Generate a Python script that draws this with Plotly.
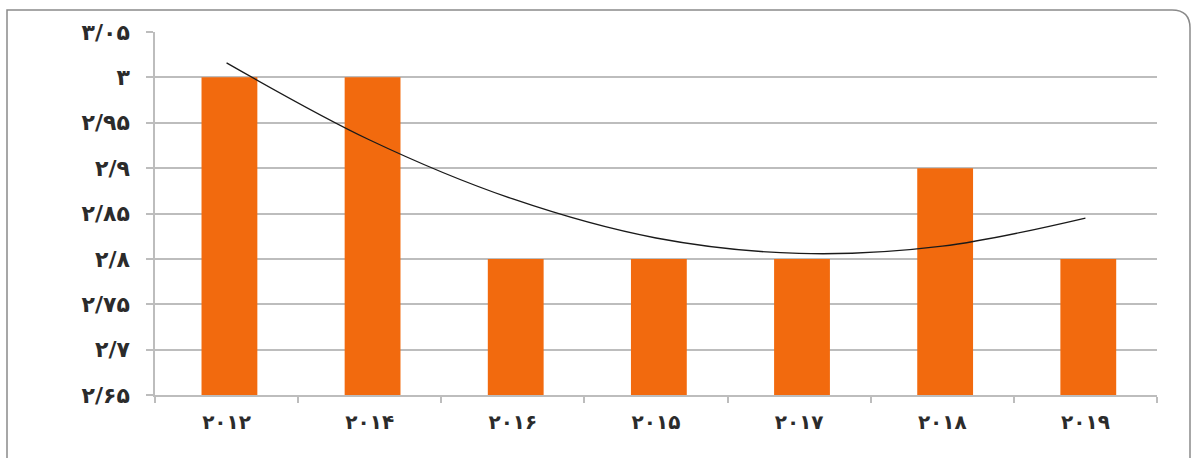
import plotly.graph_objects as go

categories = ["۲۰۱۲", "۲۰۱۴", "۲۰۱۶", "۲۰۱۵", "۲۰۱۷", "۲۰۱۸", "۲۰۱۹"]
values = [3.0, 3.0, 2.8, 2.8, 2.8, 2.9, 2.8]
# trendline at each category
trend = [3.016, 2.931, 2.866, 2.823, 2.806, 2.814, 2.845]
ytick_vals = [2.65, 2.70, 2.75, 2.80, 2.85, 2.90, 2.95, 3.00, 3.05]
ytick_text = ["۲/۶۵", "۲/۷", "۲/۷۵", "۲/۸", "۲/۸۵", "۲/۹", "۲/۹۵", "۳", "۳/۰۵"]

W, H = 1192, 458
L, R, T, B = 155, 35, 32, 63
pw, ph = W - L - R, H - T - B

def px(x):
    return (x - L) / pw

def py(y):
    return 1 - (y - T) / ph

fig = go.Figure()
fig.add_trace(go.Bar(
    x=categories, y=values,
    marker=dict(color="#F26A0E", line=dict(width=0)),
    width=0.39, offset=-0.175,
))
fig.add_trace(go.Scatter(
    x=categories, y=trend, mode="lines",
    line=dict(color="#1a1a1a", width=1.3, shape="spline"),
))

x0, x1 = px(7), px(1190)
y0, y1 = py(470), py(10)
rx, ry = 18 / pw, 18 / ph
path = (f"M {x0},{y0} L {x0},{y1} L {x1 - rx},{y1} "
        f"Q {x1},{y1} {x1},{y1 - ry} L {x1},{y0}")
fig.add_shape(type="path", path=path, xref="paper", yref="paper",
              line=dict(color="#8a8a8a", width=1.5))

grid = "#BDBDBD"
fig.update_layout(
    width=W, height=H,
    margin=dict(l=L, r=R, t=T, b=B, autoexpand=False),
    paper_bgcolor="white", plot_bgcolor="white",
    showlegend=False,
    font=dict(family="DejaVu Sans", color="#2b2b2b"),
    xaxis=dict(
        type="category", tickson="boundaries", ticks="outside",
        ticklen=6, tickcolor=grid, tickwidth=1.5,
        showline=True, linecolor=grid, linewidth=1.5,
        showgrid=False, range=[-0.5, 6.5],
        tickfont=dict(size=20, family="DejaVu Sans", color="#2b2b2b",
                      weight="bold"),
        ticklabelstandoff=8,
    ),
    yaxis=dict(
        range=[2.65, 3.05], tickvals=ytick_vals, ticktext=ytick_text,
        ticks="outside", ticklen=7, tickcolor=grid, tickwidth=1.5,
        showgrid=True, gridcolor=grid, gridwidth=1.5,
        showline=True, linecolor=grid, linewidth=1.5,
        zeroline=False,
        tickfont=dict(size=22, family="DejaVu Sans", color="#2b2b2b",
                      weight="bold"),
        ticklabelstandoff=12,
    ),
)

fig.write_html("out.html",
               config={"displayModeBar": False},
               post_script="document.body.style.margin='0';"
                           "document.body.style.overflow='hidden';")
